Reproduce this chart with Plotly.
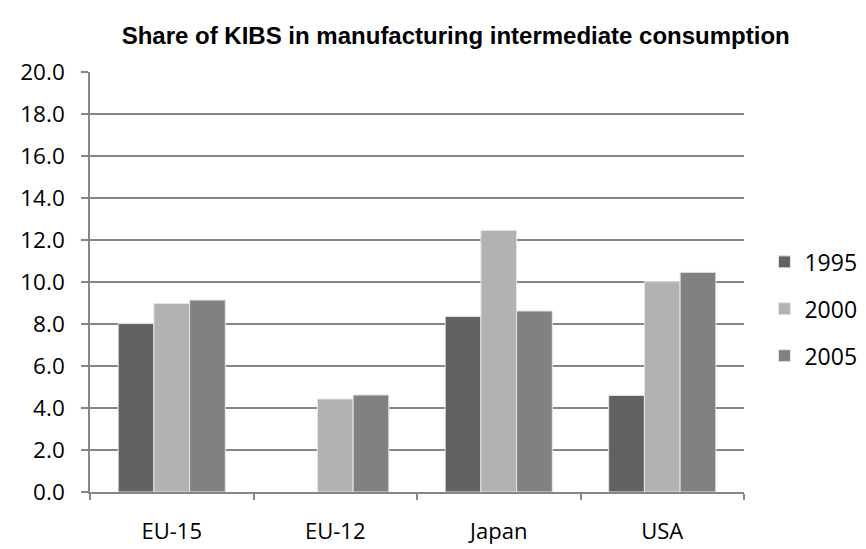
import plotly.graph_objects as go

# Share of KIBS in manufacturing intermediate consumption (%)
regions = ["EU-15", "EU-12", "Japan", "USA"]
years = ["1995", "2000", "2005"]
share_1995 = [8.02, None, 8.36, 4.6]
share_2000 = [8.98, 4.43, 12.46, 10.01]
share_2005 = [9.14, 4.62, 8.62, 10.46]
y_ticks = [0, 2, 4, 6, 8, 10, 12, 14, 16, 18, 20]

series = [share_1995, share_2000, share_2005]
colors = ["#616161", "#b2b2b2", "#818181"]

fig = go.Figure()
for year, vals, col in zip(years, series, colors):
    fig.add_trace(go.Bar(
        x=regions,
        y=vals,
        name=year,
        legendgroup=year,
        marker=dict(color=col, line=dict(color="#e6e6e6", width=1)),
        hovertemplate="%{x}, " + year + ": %{y:.1f}<extra></extra>",
    ))

fig.update_layout(
    width=866,
    height=549,
    barmode="group",
    bargap=0.345,
    bargroupgap=0,
    title=dict(
        text="<b>Share of KIBS in manufacturing intermediate consumption</b>",
        x=0.517, xanchor="center", y=0.95, yanchor="middle",
        font=dict(family="Liberation Sans, Arial", size=24, color="#000000"),
    ),
    xaxis=dict(
        showline=True, linecolor="#868686", linewidth=1.5,
        ticks="outside", tickson="boundaries", ticklen=6,
        tickcolor="#868686", tickwidth=1.5,
        ticklabelstandoff=19,
        tickfont=dict(size=22),
        showgrid=False,
    ),
    yaxis=dict(
        range=[0, 20],
        tickvals=y_ticks,
        tickformat=".1f",
        showline=True, linecolor="#868686", linewidth=1.5,
        ticks="outside", ticklen=7, tickcolor="#868686", tickwidth=1.5,
        ticklabelstandoff=12,
        tickfont=dict(size=22.5),
        showgrid=True, gridcolor="#868686", gridwidth=1.5,
        zeroline=False,
    ),
    legend=dict(
        x=(772 - 79) / (866 - 79 - 115), y=(493 - 306) / (493 - 64), yanchor="middle",
        traceorder="grouped", tracegroupgap=14,
        font=dict(size=23),
    ),
    font=dict(family="Open Sans, Arial", size=21, color="#000000"),
    plot_bgcolor="white",
    paper_bgcolor="white",
    margin=dict(t=64, b=56, l=79, r=115),
)

fig.write_html("out.html")
